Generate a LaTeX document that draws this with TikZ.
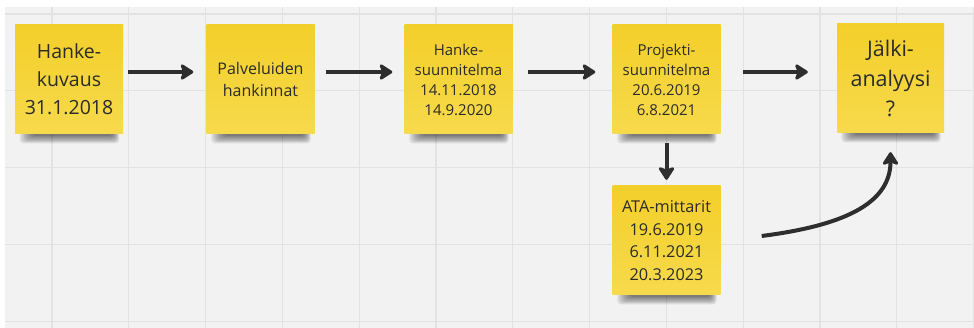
\documentclass[tikz,border=0pt]{standalone}
\usepackage{fontspec}
\setmainfont{Open Sans}
\usetikzlibrary{arrows.meta,calc}
\definecolor{board}{HTML}{F2F2F2}
\definecolor{gridline}{HTML}{E2E2E2}
\definecolor{noteTop}{HTML}{F3CF2A}
\definecolor{noteBot}{HTML}{F7DA4C}
\definecolor{ink}{HTML}{2B2B2B}
\definecolor{arrowink}{HTML}{2E2E2E}
\newcommand{\fs}[2]{\fontsize{#1}{#2}\selectfont}
% soft shadow under a sticky note: stacked translucent layers
\newcommand{\noteshadow}[1]{%
  \foreach \k in {1,...,7}{%
    \fill[black,opacity=0.09,rounded corners=4pt]
      ($(#1.south west)+(19-2*\k,-6)$) rectangle ($(#1.south east)+(-11+\k,0.5+1.25*\k)$);
  }%
}
\begin{document}
\begin{tikzpicture}[x=1pt,y=-1pt,
  note/.style={draw=none,top color=noteTop,bottom color=noteBot,
    minimum width=108pt,minimum height=109pt,inner sep=0pt,
    align=center,text=ink},
  arr/.style={draw=arrowink,line width=4pt,
    -{Stealth[length=15pt,width=19pt,inset=3.5pt,round]}}]
  % page and board
  \useasboundingbox (0,0) rectangle (974,328);
  \fill[white] (0,0) rectangle (974,328);
  \fill[board] (5,7) rectangle (974,328);
  \foreach \i in {0,...,12}{
    \draw[gridline,line width=1.3pt] ({52+76.8*\i},7) -- ({52+76.8*\i},328);
  }
  \foreach \j in {0,...,4}{
    \draw[gridline,line width=1.3pt] (5,{14+76.8*\j}) -- (974,{14+76.8*\j});
  }

  % sticky note footprints, used for the shadows drawn beneath the notes
  \coordinate (c1) at (69,79.5);
  \coordinate (c2) at (260.5,79.5);
  \coordinate (c3) at (458.5,79.5);
  \coordinate (c4) at (666.5,79.5);
  \coordinate (c5) at (890.5,78.5);
  \coordinate (c6) at (666.5,240.5);
  \foreach \c in {c1,c2,c3,c4,c5,c6}{
    \node[minimum width=108pt,minimum height=109pt,inner sep=0pt] (s\c) at (\c) {};
  }
  \foreach \c in {c1,c2,c3,c4,c5,c6}{
    \noteshadow{s\c}
  }

  \node[note,font=\fs{19.5}{28}] (n1) at (c1) {Hanke-\\kuvaus\\31.1.2018};
  \node[note,font=\fs{16}{22}] (n2) at (c2) {Palveluiden\\hankinnat};
  \node[note,font=\fs{15}{20}] (n3) at (c3) {Hanke-\\suunnitelma\\14.11.2018\\14.9.2020};
  \node[note,font=\fs{15}{20}] (n4) at (c4) {Projekti-\\suunnitelma\\20.6.2019\\6.8.2021};
  \node[note,font=\fs{21.5}{30},minimum width=107pt] (n5) at (c5) {Jälki-\\analyysi\\?};
  \node[note,font=\fs{16.3}{22.5}] (n6) at (c6) {ATA-mittarit\\19.6.2019\\6.11.2021\\20.3.2023};

  % connectors
  \draw[arr] ($(n1.east)+(5,-7.5)$) -- ($(n2.west)+(-13,-7.5)$);
  \draw[arr] ($(n2.east)+(11,-7.5)$) -- ($(n3.west)+(-12,-7.5)$);
  \draw[arr] ($(n3.east)+(15,-7.5)$) -- ($(n4.west)+(-17,-7.5)$);
  \draw[arr] ($(n4.east)+(22,-7.5)$) -- ($(n5.west)+(-29,-6.5)$);
  \draw[arr] ($(n4.south)+(0,9)$) -- ($(n6.north)+(0,-6)$);
  \draw[arr] ($(n6.east)+(41,-4.5)$) .. controls +(78,-10) and +(0,53) .. ($(n5.south)+(0,19)$);
\end{tikzpicture}
\end{document}
